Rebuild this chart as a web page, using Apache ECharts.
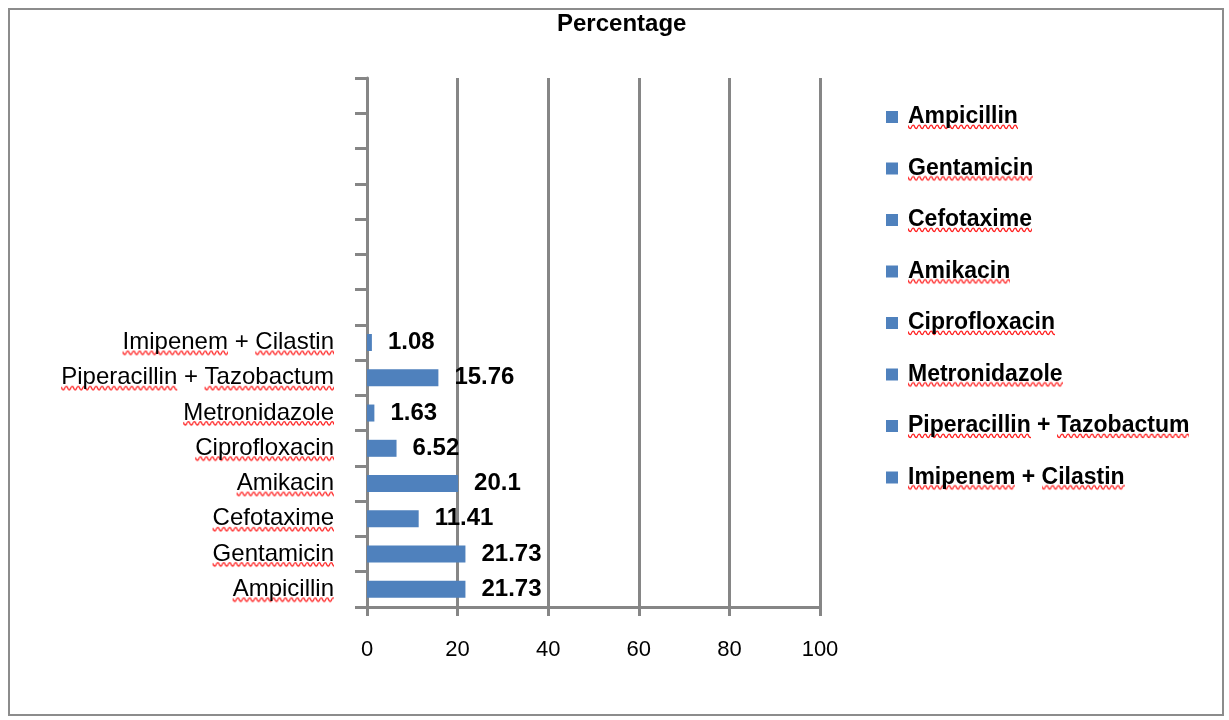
<!DOCTYPE html>
<html>
<head>
<meta charset="utf-8">
<script src="https://cdn.jsdelivr.net/npm/echarts@6/dist/echarts.min.js"></script>
<style>
  html, body { margin: 0; padding: 0; background: #fff; }
  #chart { width: 1229px; height: 720px; }
</style>
</head>
<body>
<div id="chart"></div>
<script>
// Antibiotics and their share (%)
const drugs = [
  'Ampicillin', 'Gentamicin', 'Cefotaxime', 'Amikacin',
  'Ciprofloxacin', 'Metronidazole', 'Piperacillin + Tazobactum', 'Imipenem + Cilastin'
];
const percentages = [21.73, 21.73, 11.41, 20.1, 6.52, 1.63, 15.76, 1.08];
// Unused slots kept above the drugs on the category axis
const emptySlots = 7;
const xTicks = [0, 20, 40, 60, 80, 100];

const FONT = '"Liberation Sans", Arial, sans-serif';
const GREY = '#868686';
const BLUE = '#4F81BD';

const slotNames = drugs.concat(Array.from({ length: emptySlots }, (_, i) => ' '.repeat(i + 1)));

// --- red "spell-check" squiggle under each word of the drug names ---
const measureCtx = document.createElement('canvas').getContext('2d');

function squiggle(width, height, y0) {
  const c = document.createElement('canvas');
  c.width = Math.ceil(width);
  c.height = height;
  const g = c.getContext('2d');
  g.strokeStyle = '#ff2020';
  g.lineWidth = 1.3;
  g.beginPath();
  const half = 3;   // half a wave period, px
  const amp = 2.6;  // wave height, px
  g.moveTo(0, y0);
  let down = true;
  for (let x = 0; x < width; x += half) {
    const cy = down ? y0 + amp * 1.6 : y0 - amp * 0.6;
    g.quadraticCurveTo(x + half / 2, cy, x + half, down ? y0 + amp : y0);
    down = !down;
  }
  g.stroke();
  return c;
}

// Builds rich styles + a formatter that wraps every word (not "+") in a squiggled box
function squiggledText(fontSize, fontWeight, boxHeight, waveY, prefix) {
  measureCtx.font = fontWeight + ' ' + fontSize + 'px ' + FONT;
  const rich = {};
  const keyOf = {};
  let n = 0;
  drugs.forEach(name => {
    name.split(' ').forEach(word => {
      if (word === '+' || keyOf[word]) return;
      const w = measureCtx.measureText(word).width;
      const key = prefix + (n++);
      keyOf[word] = key;
      rich[key] = {
        width: w,
        height: boxHeight,
        fontSize: fontSize,
        fontWeight: fontWeight,
        fontFamily: FONT,
        color: '#000',
        backgroundColor: { image: squiggle(w, boxHeight, waveY) }
      };
    });
  });
  const format = text => text.split(' ').map(word =>
    keyOf[word] ? '{' + keyOf[word] + '|' + word + '}' : word
  ).join(' ');
  return { rich, format };
}

const axisText = squiggledText(24, 'normal', 30, 24, 'a');
const legendText = squiggledText(23, 'bold', 28, 22.5, 'l');

// One series per drug so each drug gets its own legend entry;
// all share a stack so every bar sits centred on its own category.
const series = drugs.map((name, i) => ({
  name: name,
  type: 'bar',
  stack: 'all',
  barWidth: 17,
  itemStyle: { color: BLUE },
  label: {
    show: true,
    position: 'right',
    distance: 16,
    color: '#000',
    fontFamily: FONT,
    fontSize: 24,
    fontWeight: 'bold',
    formatter: p => String(p.value)
  },
  data: slotNames.map((_, j) => (j === i ? percentages[i] : null))
}));

const chart = echarts.init(document.getElementById('chart'), null, { renderer: 'canvas' });
chart.setOption({
  animation: false,
  backgroundColor: '#fff',
  textStyle: { fontFamily: FONT },
  title: {
    text: 'Percentage',
    left: 552,
    top: 7,
    textStyle: { fontFamily: FONT, fontSize: 24, fontWeight: 'bold', color: '#000' }
  },
  legend: {
    orient: 'vertical',
    left: 881,
    top: 98,
    itemWidth: 12,
    itemHeight: 12,
    itemGap: 23.5,
    icon: 'rect',
    data: drugs,
    formatter: legendText.format,
    textStyle: {
      fontFamily: FONT, fontSize: 23, fontWeight: 'bold', color: '#000',
      lineHeight: 28, padding: [0, 0, 0, 5],
      rich: legendText.rich
    }
  },
  grid: { left: 367, right: 409, top: 78, bottom: 113, containLabel: false },
  xAxis: {
    type: 'value',
    min: xTicks[0],
    max: xTicks[xTicks.length - 1],
    interval: 20,
    axisLine: { show: true, lineStyle: { color: GREY, width: 3 } },
    axisTick: { show: true, length: 9, lineStyle: { color: GREY, width: 3 } },
    splitLine: { show: true, lineStyle: { color: GREY, width: 3 } },
    axisLabel: { margin: 32, fontFamily: FONT, fontSize: 22, color: '#000' }
  },
  yAxis: {
    type: 'category',
    data: slotNames,
    axisLine: { show: true, lineStyle: { color: GREY, width: 3 } },
    axisTick: { show: true, length: 12, interval: 0, lineStyle: { color: GREY, width: 3 } },
    splitLine: { show: false },
    axisLabel: {
      margin: 33, interval: 0, fontFamily: FONT, fontSize: 24, color: '#000',
      lineHeight: 30,
      formatter: axisText.format,
      rich: axisText.rich
    }
  },
  graphic: [{
    type: 'rect',
    silent: true,
    shape: { x: 9, y: 9, width: 1214, height: 706 },
    style: { fill: 'none', stroke: '#8c8c8c', lineWidth: 2 }
  }],
  series: series
});
</script>
</body>
</html>
